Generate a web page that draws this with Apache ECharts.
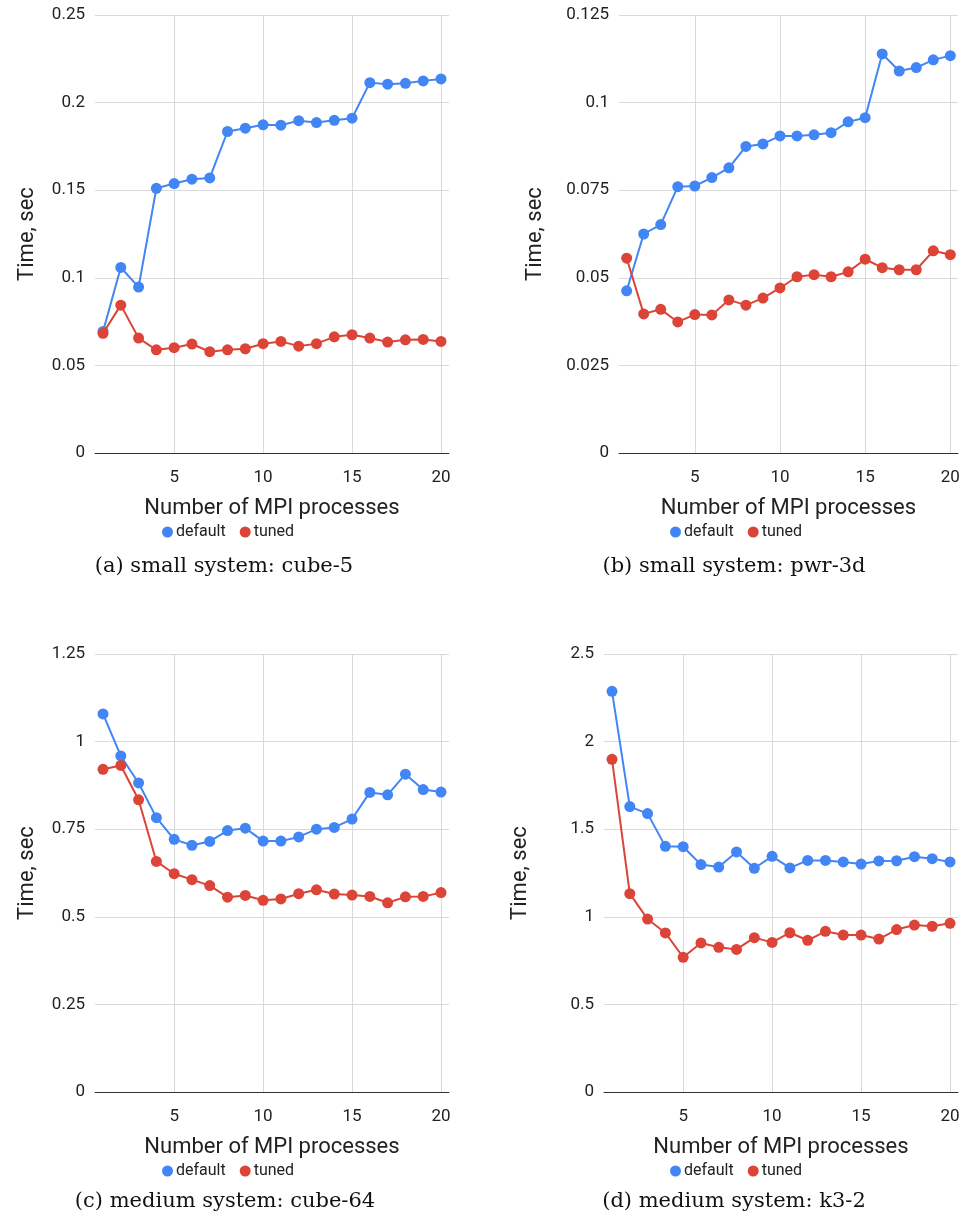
<!DOCTYPE html>
<html>
<head>
<meta charset="utf-8">
<script src="https://cdn.jsdelivr.net/npm/echarts@6/dist/echarts.min.js"></script>
<style>
  html, body { margin: 0; padding: 0; background: #fff; }
  #chart { width: 963px; height: 1221px; }
</style>
</head>
<body>
<div id="chart"></div>
<script>
// MPI process counts (x values)
const procs = [1, 2, 3, 4, 5, 6, 7, 8, 9, 10, 11, 12, 13, 14, 15, 16, 17, 18, 19, 20];
const xTicks = [5, 10, 15, 20];

// (a) small system: cube-5
const cube5Default = [0.0694, 0.1059, 0.0947, 0.1511, 0.1538, 0.1563, 0.1570, 0.1835, 0.1854, 0.1873,
                      0.1871, 0.1897, 0.1886, 0.1899, 0.1911, 0.2114, 0.2105, 0.2110, 0.2124, 0.2135];
const cube5Tuned = [0.0683, 0.0844, 0.0656, 0.0589, 0.0601, 0.0622, 0.0578, 0.0589, 0.0595, 0.0624,
                    0.0637, 0.0610, 0.0624, 0.0663, 0.0675, 0.0656, 0.0633, 0.0646, 0.0648, 0.0637];

// (b) small system: pwr-3d
const pwr3dDefault = [0.0463, 0.0625, 0.0652, 0.0760, 0.0762, 0.0786, 0.0814, 0.0875, 0.0882, 0.0905,
                      0.0905, 0.0908, 0.0914, 0.0945, 0.0957, 0.1139, 0.1090, 0.1100, 0.1122, 0.1134];
const pwr3dTuned = [0.0556, 0.0397, 0.0410, 0.0374, 0.0395, 0.0394, 0.0437, 0.0422, 0.0442, 0.0471,
                    0.0503, 0.0509, 0.0503, 0.0517, 0.0553, 0.0529, 0.0523, 0.0523, 0.0577, 0.0566];

// (c) medium system: cube-64
const cube64Default = [1.079, 0.959, 0.882, 0.783, 0.721, 0.704, 0.715, 0.746, 0.753, 0.716,
                       0.716, 0.728, 0.750, 0.755, 0.779, 0.855, 0.848, 0.907, 0.863, 0.856];
const cube64Tuned = [0.921, 0.932, 0.834, 0.658, 0.623, 0.606, 0.589, 0.556, 0.561, 0.547,
                     0.551, 0.566, 0.577, 0.565, 0.562, 0.558, 0.540, 0.557, 0.558, 0.569];

// (d) medium system: k3-2
const k32Default = [2.287, 1.629, 1.589, 1.402, 1.400, 1.298, 1.284, 1.370, 1.277, 1.345,
                    1.279, 1.322, 1.322, 1.313, 1.301, 1.319, 1.320, 1.343, 1.332, 1.313];
const k32Tuned = [1.899, 1.132, 0.987, 0.908, 0.769, 0.851, 0.826, 0.814, 0.881, 0.854,
                  0.909, 0.866, 0.917, 0.896, 0.896, 0.873, 0.927, 0.953, 0.946, 0.963];

const captions = ['(a) small system: cube-5', '(b) small system: pwr-3d',
                  '(c) medium system: cube-64', '(d) medium system: k3-2'];
const yMax = [0.25, 0.125, 1.25, 2.5];
const yStep = [0.05, 0.025, 0.25, 0.5];

const BLUE = '#4285f4';
const RED = '#db4437';
const FONT = 'Roboto';

const panels = [
    { left: 95, top: 15, width: 354, legendLeft: 157, capX: 224, defaults: cube5Default, tuned: cube5Tuned },
    { left: 619, top: 15, width: 339, legendLeft: 665, capX: 734, defaults: pwr3dDefault, tuned: pwr3dTuned },
    { left: 95, top: 654, width: 354, legendLeft: 157, capX: 225, defaults: cube64Default, tuned: cube64Tuned },
    { left: 604, top: 654, width: 354, legendLeft: 665, capX: 734, defaults: k32Default, tuned: k32Tuned }
];
const plotHeight = 438;

const toPairs = (ys) => procs.map((x, i) => [x, ys[i]]);

const grid = [], xAxis = [], yAxis = [], series = [], legend = [], title = [];

panels.forEach((p, i) => {
    grid.push({ left: p.left, top: p.top, width: p.width, height: plotHeight, containLabel: false });

    xAxis.push({
        gridIndex: i,
        type: 'value',
        min: 0.55,
        max: 20.45,
        name: 'Number of MPI processes',
        nameLocation: 'middle',
        nameGap: 44,
        nameTextStyle: { fontFamily: FONT, fontSize: 22, color: '#222' },
        axisLine: { show: true, lineStyle: { color: '#333', width: 1 } },
        axisTick: { show: false, customValues: xTicks },
        axisLabel: { customValues: xTicks, margin: 16, fontFamily: FONT, fontSize: 17, color: '#222' },
        splitLine: { show: true, lineStyle: { color: '#d9d9d9', width: 1 } }
    });

    yAxis.push({
        gridIndex: i,
        type: 'value',
        min: 0,
        max: yMax[i],
        interval: yStep[i],
        name: 'Time, sec',
        nameLocation: 'middle',
        nameRotate: 90,
        nameGap: i % 2 === 0 ? 57 : 73,
        nameTextStyle: { fontFamily: FONT, fontSize: 22, color: '#222' },
        axisLine: { show: false },
        axisTick: { show: false },
        axisLabel: { margin: 10, fontFamily: FONT, fontSize: 17, color: '#222' },
        splitLine: { show: true, lineStyle: { color: '#d9d9d9', width: 1 } }
    });

    const lineSeries = (name, data, color) => ({
        name,
        type: 'line',
        xAxisIndex: i,
        yAxisIndex: i,
        data: toPairs(data),
        symbol: 'circle',
        symbolSize: 11,
        showSymbol: true,
        itemStyle: { color },
        lineStyle: { color, width: 2 },
        emphasis: { disabled: true },
        z: name === 'tuned' ? 3 : 2
    });
    series.push(lineSeries('default', p.defaults, BLUE));
    series.push(lineSeries('tuned', p.tuned, RED));

    legend.push({
        data: ['default', 'tuned'],
        left: p.legendLeft,
        top: p.top + plotHeight + 66,
        icon: 'circle',
        itemWidth: 11,
        itemHeight: 11,
        itemGap: 14,
        textStyle: { fontFamily: FONT, fontSize: 16, color: '#222', padding: [0, 0, 0, -2] }
    });

    title.push({
        text: captions[i],
        left: p.capX,
        top: p.top + plotHeight + (i < 2 ? 103 : 99),
        textAlign: 'center',
        padding: 0,
        textStyle: { fontFamily: 'DejaVu Serif', fontSize: 21, fontWeight: 'normal', color: '#111' }
    });
});

const chart = echarts.init(document.getElementById('chart'), null, { renderer: 'canvas' });
chart.setOption({
    backgroundColor: '#fff',
    animation: false,
    title,
    legend,
    grid,
    xAxis,
    yAxis,
    series
});
</script>
</body>
</html>
